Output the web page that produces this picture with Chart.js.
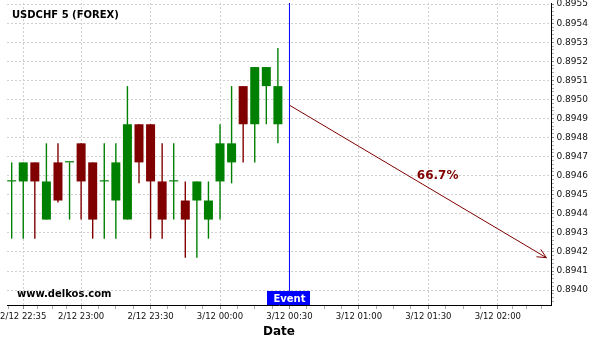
<!DOCTYPE html>
<html>
<head>
<meta charset="utf-8">
<script src="https://cdn.jsdelivr.net/npm/chart.js@4.4.0/dist/chart.umd.min.js"></script>
<style>
  html, body { margin: 0; padding: 0; background: #fff; }
  canvas { display: block; }
</style>
</head>
<body>
<canvas id="chart" width="600" height="340"></canvas>
<script>
// USDCHF 5 分钟K线
const times = [
    '2/12 22:30', '2/12 22:35', '2/12 22:40', '2/12 22:45', '2/12 22:50', '2/12 22:55',
    '2/12 23:00', '2/12 23:05', '2/12 23:10', '2/12 23:15', '2/12 23:20', '2/12 23:25',
    '2/12 23:30', '2/12 23:35', '2/12 23:40', '2/12 23:45', '2/12 23:50', '2/12 23:55',
    '3/12 00:00', '3/12 00:05', '3/12 00:10', '3/12 00:15', '3/12 00:20', '3/12 00:25'
];
const openVals = [
    0.89457, 0.89457, 0.89467, 0.89437, 0.89467, 0.89467,
    0.89477, 0.89467, 0.89457, 0.89447, 0.89437, 0.89487,
    0.89487, 0.89457, 0.89457, 0.89447, 0.89447, 0.89437,
    0.89457, 0.89467, 0.89507, 0.89487, 0.89507, 0.89487
];
const highVals = [
    0.89467, 0.89467, 0.89467, 0.89477, 0.89477, 0.89467,
    0.89477, 0.89467, 0.89477, 0.89477, 0.89507, 0.89487,
    0.89487, 0.89477, 0.89477, 0.89457, 0.89457, 0.89457,
    0.89487, 0.89507, 0.89507, 0.89517, 0.89517, 0.89527
];
const lowVals = [
    0.89427, 0.89427, 0.89427, 0.89437, 0.89446, 0.89437,
    0.89437, 0.89427, 0.89427, 0.89427, 0.89437, 0.89456,
    0.89427, 0.89427, 0.89437, 0.89417, 0.89417, 0.89427,
    0.89437, 0.89456, 0.89467, 0.89467, 0.89487, 0.89477
];
const closeVals = [
    0.89457, 0.89467, 0.89457, 0.89457, 0.89447, 0.89467,
    0.89457, 0.89437, 0.89457, 0.89467, 0.89487, 0.89467,
    0.89457, 0.89437, 0.89457, 0.89437, 0.89457, 0.89447,
    0.89477, 0.89477, 0.89487, 0.89517, 0.89517, 0.89507
];

const xTickLabels = ['2/12 22:35', '2/12 23:00', '2/12 23:30', '3/12 00:00',
                     '3/12 00:30', '3/12 01:00', '3/12 01:30', '3/12 02:00'];
const yTickLabels = ['0.8940', '0.8941', '0.8942', '0.8943', '0.8944', '0.8945', '0.8946', '0.8947',
                     '0.8948', '0.8949', '0.8950', '0.8951', '0.8952', '0.8953', '0.8954', '0.8955'];

const eventTime = '3/12 00:30';
const arrowFrom = ['3/12 00:30', 0.89497];
const arrowTo = ['3/12 02:21', 0.89417];
const arrowLabel = '66.7%';
const arrowLabelAt = ['3/12 01:34', 0.8946];

const chartTitle = 'USDCHF 5 (FOREX)';
const watermark = 'www.delkos.com';

const xMin = -2.02, xMax = 232.98;
const yMin = 0.893922, yMax = 0.895506;

const UP = '#008000';
const DOWN = '#800000';
const GRID = '#d0d0d0';

// "d/12 hh:mm" -> 距 2/12 22:30 的分钟数
const BASE = 2 * 1440 + 22 * 60 + 30;
function toMin(s) {
    const [d, hm] = s.split(' ');
    const day = +d.split('/')[0];
    const [h, m] = hm.split(':').map(Number);
    return day * 1440 + h * 60 + m - BASE;
}

const colors = openVals.map((o, i) => closeVals[i] >= o ? UP : DOWN);
const bodies = times.map((t, i) => ({ x: toMin(t), y: [openVals[i], closeVals[i]] }));
const wicks = times.map((t, i) => ({ x: toMin(t), y: [lowVals[i], highVals[i]] }));

// x 轴：主刻度 + 每段 4 等分的小刻度
function buildXTicks() {
    const major = xTickLabels.map(toMin);
    const step0 = (major[1] - major[0]) / 4;
    const ticks = [];
    for (let v = major[0] - step0; v >= xMin; v -= step0) ticks.push({ value: v, isMajor: false });
    major.forEach((v, i) => {
        ticks.push({ value: v, isMajor: true, text: xTickLabels[i] });
        if (i < major.length - 1) {
            const step = (major[i + 1] - v) / 4;
            for (let k = 1; k < 4; k++) ticks.push({ value: v + k * step, isMajor: false });
        } else {
            for (let m = v + step0; m <= xMax; m += step0) ticks.push({ value: m, isMajor: false });
        }
    });
    return ticks.sort((a, b) => a.value - b.value);
}

// y 轴：主刻度 0.0001，小刻度 0.00002
function buildYTicks() {
    const major = yTickLabels.map(parseFloat);
    const ticks = [];
    const first = major[0] - 0.0001;
    for (let i = -1; i < major.length; i++) {
        const v = i < 0 ? first : major[i];
        if (i >= 0) ticks.push({ value: v, isMajor: true, text: yTickLabels[i] });
        for (let k = 1; k < 5; k++) {
            const m = v + k * 0.00002;
            if (m >= yMin && m <= yMax) ticks.push({ value: m, isMajor: false });
        }
    }
    return ticks;
}

const overlay = {
    id: 'overlay',
    afterDatasetsDraw(chart) {
        const { ctx, chartArea, scales: { x, y } } = chart;
        ctx.save();

        ctx.fillStyle = '#000';
        ctx.font = 'bold 10px "DejaVu Sans"';
        ctx.textAlign = 'left';
        ctx.textBaseline = 'alphabetic';
        ctx.fillText(chartTitle, chartArea.left + 5, chartArea.top + 15);
        ctx.fillText(watermark, chartArea.left + 10, chartArea.bottom - 8);

        // 箭头
        const pts = chart.getDatasetMeta(3).data;
        const a = pts[0], b = pts[1];
        const ang = Math.atan2(b.y - a.y, b.x - a.x);
        ctx.strokeStyle = DOWN;
        ctx.lineWidth = 1;
        ctx.beginPath();
        ctx.moveTo(b.x - 10 * Math.cos(ang - 0.44), b.y - 10 * Math.sin(ang - 0.44));
        ctx.lineTo(b.x, b.y);
        ctx.lineTo(b.x - 10 * Math.cos(ang + 0.44), b.y - 10 * Math.sin(ang + 0.44));
        ctx.stroke();

        ctx.fillStyle = DOWN;
        ctx.font = 'bold 12px "DejaVu Sans"';
        ctx.textAlign = 'center';
        ctx.textBaseline = 'middle';
        ctx.fillText(arrowLabel, x.getPixelForValue(toMin(arrowLabelAt[0])), y.getPixelForValue(arrowLabelAt[1]));

        // Event 标签
        const ex = x.getPixelForValue(toMin(eventTime));
        ctx.fillStyle = '#0000ff';
        ctx.fillRect(Math.round(ex - 22), chartArea.bottom - 14, 43, 14);
        ctx.fillStyle = '#fff';
        ctx.font = 'bold 10px "DejaVu Sans"';
        ctx.textBaseline = 'alphabetic';
        ctx.fillText('Event', ex, chartArea.bottom - 3);

        ctx.restore();
    }
};

Chart.defaults.font.family = '"DejaVu Sans"';
Chart.defaults.color = '#111';

const evX = toMin(eventTime);

new Chart(document.getElementById('chart'), {
    type: 'bar',
    data: {
        datasets: [
            {
                label: 'body',
                data: bodies,
                backgroundColor: colors,
                barThickness: 9,
                minBarLength: 1.2,
                grouped: false,
                inflateAmount: 0,
                borderWidth: 0
            },
            {
                label: 'wick',
                data: wicks,
                backgroundColor: colors,
                barThickness: 1.4,
                grouped: false,
                inflateAmount: 0,
                borderWidth: 0
            },
            {
                type: 'line',
                label: 'event',
                data: [{ x: evX, y: yMin }, { x: evX, y: yMax }],
                borderColor: '#0000ff',
                borderWidth: 1,
                pointRadius: 0
            },
            {
                type: 'line',
                label: 'arrow',
                data: [
                    { x: toMin(arrowFrom[0]), y: arrowFrom[1] },
                    { x: toMin(arrowTo[0]), y: arrowTo[1] }
                ],
                borderColor: DOWN,
                borderWidth: 1,
                pointRadius: 0
            }
        ]
    },
    options: {
        responsive: false,
        animation: false,
        layout: { padding: { left: 7, top: 3, right: 0, bottom: 0 } },
        plugins: {
            legend: { display: false },
            tooltip: { enabled: false }
        },
        scales: {
            x: {
                type: 'linear',
                min: xMin,
                max: xMax,
                offset: false,
                afterBuildTicks: (s) => { s.ticks = buildXTicks(); },
                afterFit: (s) => { s.height = 35; s.paddingLeft = 0; s.paddingRight = 0; },
                ticks: {
                    autoSkip: false,
                    maxRotation: 0,
                    minRotation: 0,
                    padding: 3,
                    font: { size: 8.5 },
                    callback: (v, i, ticks) => ticks[i].text || ''
                },
                grid: {
                    offset: false,
                    color: (c) => c.tick && c.tick.isMajor ? GRID : 'rgba(0,0,0,0)',
                    tickColor: (c) => c.tick && c.tick.isMajor ? '#888' : '#aaa',
                    tickLength: 4
                },
                border: { display: true, color: '#000', width: 1, dash: [2, 2] },
                title: {
                    display: true,
                    text: 'Date',
                    color: '#000',
                    font: { size: 12, weight: 'bold' },
                    padding: { top: 0, bottom: 1 }
                }
            },
            y: {
                type: 'linear',
                position: 'right',
                min: yMin,
                max: yMax,
                beginAtZero: false,
                afterBuildTicks: (s) => { s.ticks = buildYTicks(); },
                afterFit: (s) => { s.width = 49; s.paddingTop = 0; s.paddingBottom = 0; },
                ticks: {
                    autoSkip: false,
                    padding: 2.5,
                    font: { size: 9 },
                    callback: (v, i, ticks) => ticks[i].text || ''
                },
                grid: {
                    color: (c) => c.tick && c.tick.isMajor ? GRID : 'rgba(0,0,0,0)',
                    tickColor: (c) => c.tick && c.tick.isMajor ? '#888' : '#aaa',
                    tickLength: 3
                },
                border: { display: true, color: '#000', width: 1, dash: [2, 2] }
            }
        }
    },
    plugins: [overlay]
});
</script>
</body>
</html>
